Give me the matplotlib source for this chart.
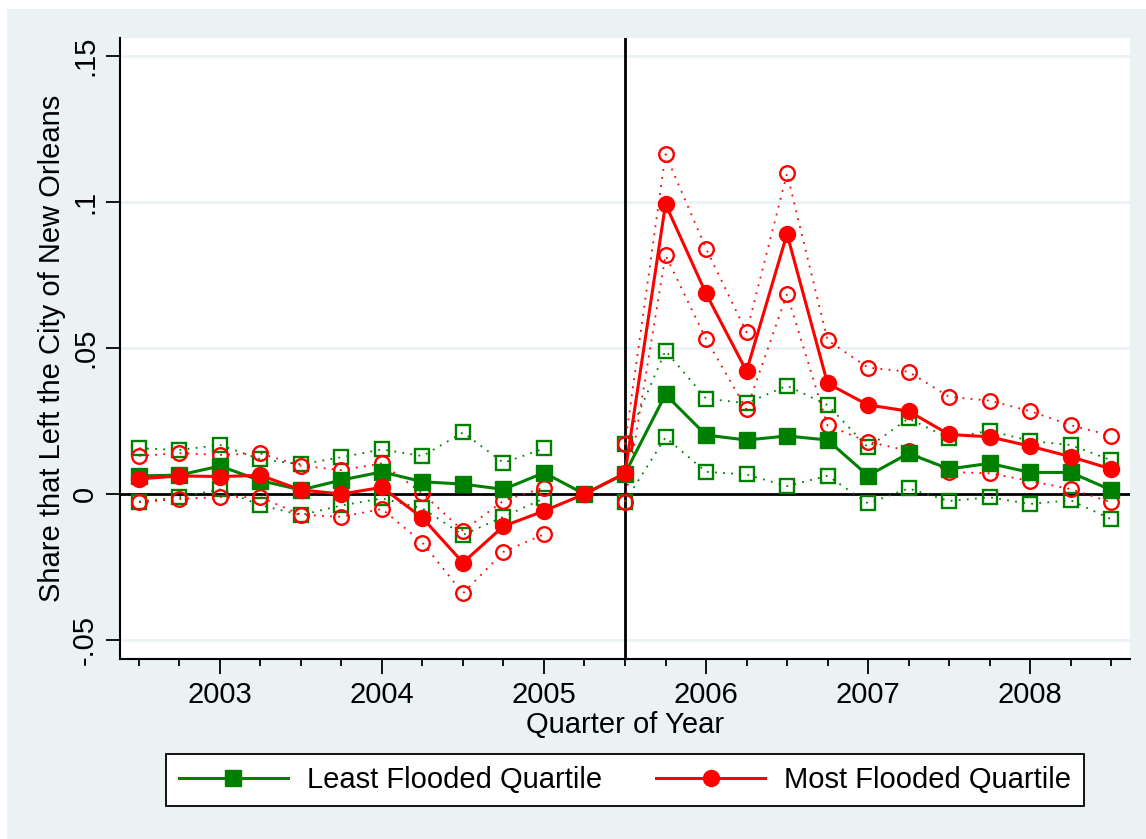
import matplotlib.pyplot as plt
import numpy as np
from matplotlib.lines import Line2D
from matplotlib.patches import Rectangle

plt.rcParams["font.family"] = ["Liberation Sans", "DejaVu Sans"]

# Quarters 2002q3 .. 2008q3; 2005q2 is the omitted reference quarter
quarters = ["2002q3", "2002q4",
            "2003q1", "2003q2", "2003q3", "2003q4",
            "2004q1", "2004q2", "2004q3", "2004q4",
            "2005q1", "2005q2", "2005q3", "2005q4",
            "2006q1", "2006q2", "2006q3", "2006q4",
            "2007q1", "2007q2", "2007q3", "2007q4",
            "2008q1", "2008q2", "2008q3"]
year_ticks = [2003, 2004, 2005, 2006, 2007, 2008]
katrina = "2005q3"

nan = np.nan
least_est = [0.0062, 0.0065, 0.0096, 0.0046, 0.0014, 0.0048, 0.0076, 0.0042,
             0.0034, 0.0016, 0.0073, 0.0, 0.0070, 0.0341, 0.0202, 0.0185,
             0.0199, 0.0185, 0.0063, 0.0139, 0.0086, 0.0105, 0.0074, 0.0074,
             0.0014]
least_hi = [0.0157, 0.0151, 0.0168, 0.0119, 0.0102, 0.0126, 0.0153, 0.0130,
            0.0211, 0.0107, 0.0156, nan, 0.0170, 0.0491, 0.0327, 0.0311,
            0.0371, 0.0305, 0.0160, 0.0259, 0.0191, 0.0217, 0.0182, 0.0168,
            0.0116]
least_lo = [-0.0026, -0.0011, 0.0016, -0.0038, -0.0072, -0.0039, -0.0015,
            -0.0049, -0.0140, -0.0078, -0.0015, nan, -0.0026, 0.0194, 0.0076,
            0.0067, 0.0027, 0.0063, -0.0032, 0.0019, -0.0024, -0.0011,
            -0.0034, -0.0021, -0.0086]

most_est = [0.0052, 0.0062, 0.0060, 0.0064, 0.0014, 0.0, 0.0023, -0.0082,
            -0.0235, -0.0110, -0.0058, 0.0, 0.0071, 0.0993, 0.0687, 0.0421,
            0.0891, 0.0379, 0.0305, 0.0284, 0.0204, 0.0196, 0.0164, 0.0128,
            0.0086]
most_hi = [0.0131, 0.0140, 0.0134, 0.0139, 0.0097, 0.0082, 0.0105, 0.0002,
           -0.0126, -0.0023, 0.0022, nan, 0.0170, 0.1164, 0.0841, 0.0554,
           0.1098, 0.0527, 0.0433, 0.0419, 0.0333, 0.0320, 0.0284, 0.0236,
           0.0200]
most_lo = [-0.0028, -0.0017, -0.0010, -0.0011, -0.0071, -0.0078, -0.0051,
           -0.0167, -0.0340, -0.0198, -0.0138, nan, -0.0026, 0.0818, 0.0531,
           0.0290, 0.0685, 0.0235, 0.0179, 0.0148, 0.0076, 0.0071, 0.0045,
           0.0017, -0.0028]

y_ticks = [-0.05, 0, 0.05, 0.1, 0.15]
y_ticklabels = ["-.05", "0", ".05", ".1", ".15"]


def qpos(q):
    """Turn '2005q3' into a fractional year (2005.5)."""
    year, qq = q.split("q")
    return int(year) + (int(qq) - 1) / 4


x = np.array([qpos(q) for q in quarters])

GREEN = "#008000"
RED = "#ff0000"
BG = "#eaf2f3"
FS = 21

fig = plt.figure(figsize=(11.46, 8.39), dpi=100, facecolor="white")
# Stata-style graph region (thin white strip along top and left edge)
fig.patches.append(Rectangle((7 / 1146, 0), 1, 1 - 9 / 839,
                             transform=fig.transFigure,
                             facecolor=BG, edgecolor="none", zorder=-10))

ax = fig.add_axes([120 / 1146, 1 - 659 / 839, (1130 - 120) / 1146,
                   (659 - 38) / 839])
ax.set_facecolor("white")

for ycut in [-0.05, 0.05, 0.1, 0.15]:
    ax.axhline(ycut, color=BG, lw=2, zorder=0)
ax.axhline(0, color="black", lw=2, zorder=1)
ax.axvline(qpos(katrina), color="black", lw=2, zorder=1)

dot = (0, (1, 3.5))
for est, hi, lo, col, mk in [(least_est, least_hi, least_lo, GREEN, "s"),
                             (most_est, most_hi, most_lo, RED, "o")]:
    for band in (hi, lo):
        ax.plot(x, band, color=col, ls=dot, lw=1.3, marker=mk, ms=10.5,
                mfc="none", mec=col, mew=1.7, zorder=3)
    ax.plot(x, est, color=col, lw=2.2, marker=mk, ms=11.5, mfc=col,
            mec=col, zorder=4)

ax.set_xlim(x[0] - 0.117, x[-1] + 0.117)
ax.set_ylim(-0.0565, 0.1562)

ax.set_xticks(year_ticks)
ax.set_xticklabels([str(y) for y in year_ticks], fontsize=FS)
ax.set_xticks(x, minor=True)
ax.tick_params(axis="x", which="major", length=11, width=1.3, pad=5)
ax.tick_params(axis="x", which="minor", length=5, width=1.3)

ax.set_yticks(y_ticks)
ax.set_yticklabels(y_ticklabels, fontsize=FS, rotation=90, va="center")
ax.tick_params(axis="y", length=10, width=1.3, pad=5)

for side in ("top", "right"):
    ax.spines[side].set_visible(False)
for side in ("left", "bottom"):
    ax.spines[side].set_linewidth(1.5)

ax.set_xlabel("Quarter of Year", fontsize=FS, labelpad=1)
ax.set_ylabel("Share that Left the City of New Orleans", fontsize=FS,
              labelpad=4)

handles = [
    Line2D([], [], color=GREEN, lw=2.2, marker="s", ms=11.5),
    Line2D([], [], color=RED, lw=2.2, marker="o", ms=11.5),
]
leg = fig.legend(handles, ["Least Flooded Quartile", "Most Flooded Quartile"],
                 loc="center", bbox_to_anchor=(625 / 1146, 1 - 780 / 839),
                 ncol=2, fontsize=FS, frameon=True, fancybox=False,
                 edgecolor="black", facecolor="white", framealpha=1,
                 handlelength=3.75, handletextpad=0.65, columnspacing=1.85,
                 borderpad=0.42, borderaxespad=0)
leg.get_frame().set_linewidth(1.3)

fig.savefig("out.png", dpi=100, facecolor=fig.get_facecolor())
